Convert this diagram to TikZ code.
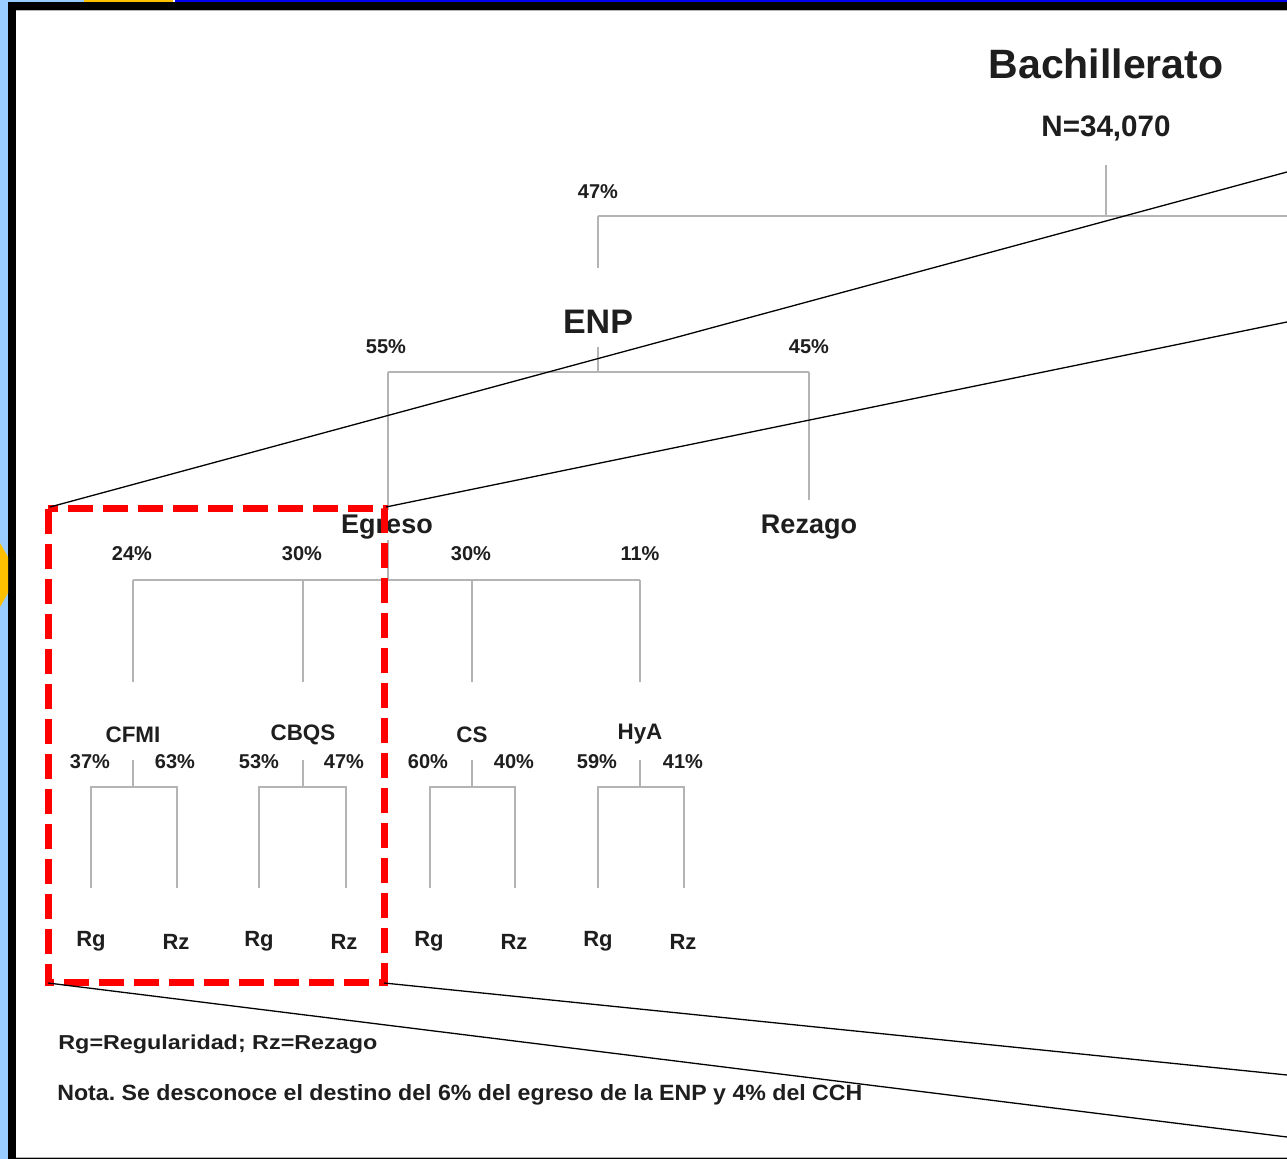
\documentclass[tikz,border=0pt]{standalone}
\usepackage{fontspec}
\setmainfont{Liberation Sans}
\frenchspacing
\definecolor{ink}{HTML}{1E1E1E}
\definecolor{treegray}{HTML}{B4B4B4}
\definecolor{sideblue}{HTML}{99CCFF}
\definecolor{topblue}{HTML}{0000F0}
\definecolor{tabyellow}{HTML}{FFC000}
\tikzset{
  tree/.style={draw=treegray, line width=1.3pt},
  zoomline/.style={draw=black, line width=0.65pt},
  lbl/.style={text=ink, inner sep=0pt},
  pct/.style={lbl, font=\fontsize{10}{12}\selectfont\bfseries},
  area/.style={lbl, font=\fontsize{11.2}{13}\selectfont\bfseries},
  leaf/.style={lbl, font=\fontsize{11}{13}\selectfont\bfseries},
  mid/.style={lbl, font=\fontsize{13.5}{16}\selectfont\bfseries},
  zoombox/.style={draw=red, line width=3.5pt, dash pattern=on 12.5pt off 5pt},
}
\begin{document}
\begin{tikzpicture}[x=0.5pt, y=-0.5pt]
\useasboundingbox (0,0) rectangle (1287,1159);
% frame
\fill[white] (0,0) rectangle (1287,1159);
\fill[sideblue] (0,0) rectangle (8,1159);
\fill[sideblue] (0,0) rectangle (84,2);
\fill[tabyellow] (84,0) rectangle (173,2);
\fill[topblue] (175,0) rectangle (1287,2);
\fill[black] (8,2) rectangle (1287,10);
\fill[black] (8,2) rectangle (16,1159);
\fill[black] (16,1158) rectangle (1287,1159);
\draw[treegray, line width=0.5pt] (16,10.6) -- (1287,10.6);
\draw[treegray, line width=0.5pt] (16,1157.4) -- (1287,1157.4);
\fill[tabyellow] (0,543) -- (8,557) -- (8,593) -- (0,607) -- cycle;

% labels
\node[lbl, font=\fontsize{20.5}{24}\selectfont\bfseries] (bach) at (1106,64) {Bachillerato};
\node[lbl, font=\fontsize{14.8}{17}\selectfont\bfseries] (n) at (1106,128) {N=34,070};
\node[pct] (p47) at (598,192) {47\%};
\node[lbl, font=\fontsize{17}{20}\selectfont\bfseries] (enp) at (598,322) {ENP};
\node[pct] (p55) at (386,347) {55\%};
\node[pct] (p45) at (809,347) {45\%};
\node[mid] (egr) at (387,527) {Egreso};
\node[mid] (rez) at (809,527) {Rezago};
\node[pct] (p24) at (132,554) {24\%};
\node[pct] (p30a) at (302,554) {30\%};
\node[pct] (p30b) at (471,554) {30\%};
\node[pct] (p11) at (640,554) {11\%};
\node[area] (cfmi) at (133,735) {CFMI};
\node[area] (cbqs) at (303,735) {CBQS};
\node[area] (cs) at (472,735) {CS};
\node[area] (hya) at (640,734) {HyA};
\node[pct] (p37) at (90,762) {37\%};
\node[pct] (p63) at (175,762) {63\%};
\node[pct] (p53) at (259,762) {53\%};
\node[pct] (p47b) at (344,762) {47\%};
\node[pct] (p60) at (428,762) {60\%};
\node[pct] (p40) at (514,762) {40\%};
\node[pct] (p59) at (597,762) {59\%};
\node[pct] (p41) at (683,762) {41\%};
\node[leaf] (rg1) at (91,941) {Rg};
\node[leaf] (rz1) at (176,942) {Rz};
\node[leaf] (rg2) at (259,941) {Rg};
\node[leaf] (rz2) at (344,942) {Rz};
\node[leaf] (rg3) at (429,941) {Rg};
\node[leaf] (rz3) at (514,942) {Rz};
\node[leaf] (rg4) at (598,941) {Rg};
\node[leaf] (rz4) at (683,942) {Rz};
\node[lbl, anchor=west] (legend) at (58,1044) {\resizebox{159.5pt}{7.3pt}{\bfseries Rg=Regularidad; Rz=Rezago}};
\node[lbl, anchor=west] (nota) at (57,1095) {\resizebox{402.5pt}{8pt}{\bfseries Nota. Se desconoce el destino del 6\% del egreso de la ENP y 4\% del CCH}};

% tree junctions
\coordinate (nlow) at (1106,165);
\coordinate (j0) at (1106,216);
\coordinate (j0r) at (1287,216);
\coordinate (j0l) at (598,216);
\coordinate (enpTop) at (598,268);
\coordinate (enpLow) at (598,347);
\coordinate (j1) at (598,372);
\coordinate (j1l) at (388,372);
\coordinate (j1r) at (809,372);
\coordinate (egrTop) at (388,510);
\coordinate (rezTop) at (809,500);
\coordinate (egrLow) at (388,540);
\coordinate (j2) at (388,580);
\coordinate (j2a) at (133,580);
\coordinate (j2b) at (303,580);
\coordinate (j2c) at (472,580);
\coordinate (j2d) at (640,580);

\draw[tree] (nlow) -- (j0);
\draw[tree] (j0l) -- (j0r);
\draw[tree] (j0l) -- (enpTop);
\draw[tree] (enpLow) -- (j1);
\draw[tree] (j1l) -- (j1r);
\draw[tree] (j1l) -- (egrTop);
\draw[tree] (j1r) -- (rezTop);
\draw[tree] (egrLow) -- (j2);
\draw[tree] (j2a) -- (j2d);
\foreach \c in {133,303,472,640}{
  \draw[tree] (\c,580) -- (\c,682);
}
% sub-trees
\foreach \c/\l/\r in {133/91/177, 303/259/346, 472/430/515, 640/598/684}{
  \draw[tree] (\c,760) -- (\c,787);
  \draw[tree] (\l,888) -- (\l,787) -- (\r,787) -- (\r,888);
}

% zoom box
\coordinate (zTL) at (48,509);
\coordinate (zTR) at (384,509);
\coordinate (zBR) at (384,983);
\coordinate (zBL) at (48,983);
\draw[zoombox] (zTL) rectangle (zBR);
\coordinate (e1) at (1287,172);
\coordinate (e2) at (1287,322);
\coordinate (e3) at (1287,1075);
\coordinate (e4) at (1287,1137);
\draw[zoomline] (50,507) -- (e1);
\draw[zoomline] (386,507) -- (e2);
\draw[zoomline] (zBR) -- (e3);
\draw[zoomline] (zBL) -- (e4);
\end{tikzpicture}
\end{document}
